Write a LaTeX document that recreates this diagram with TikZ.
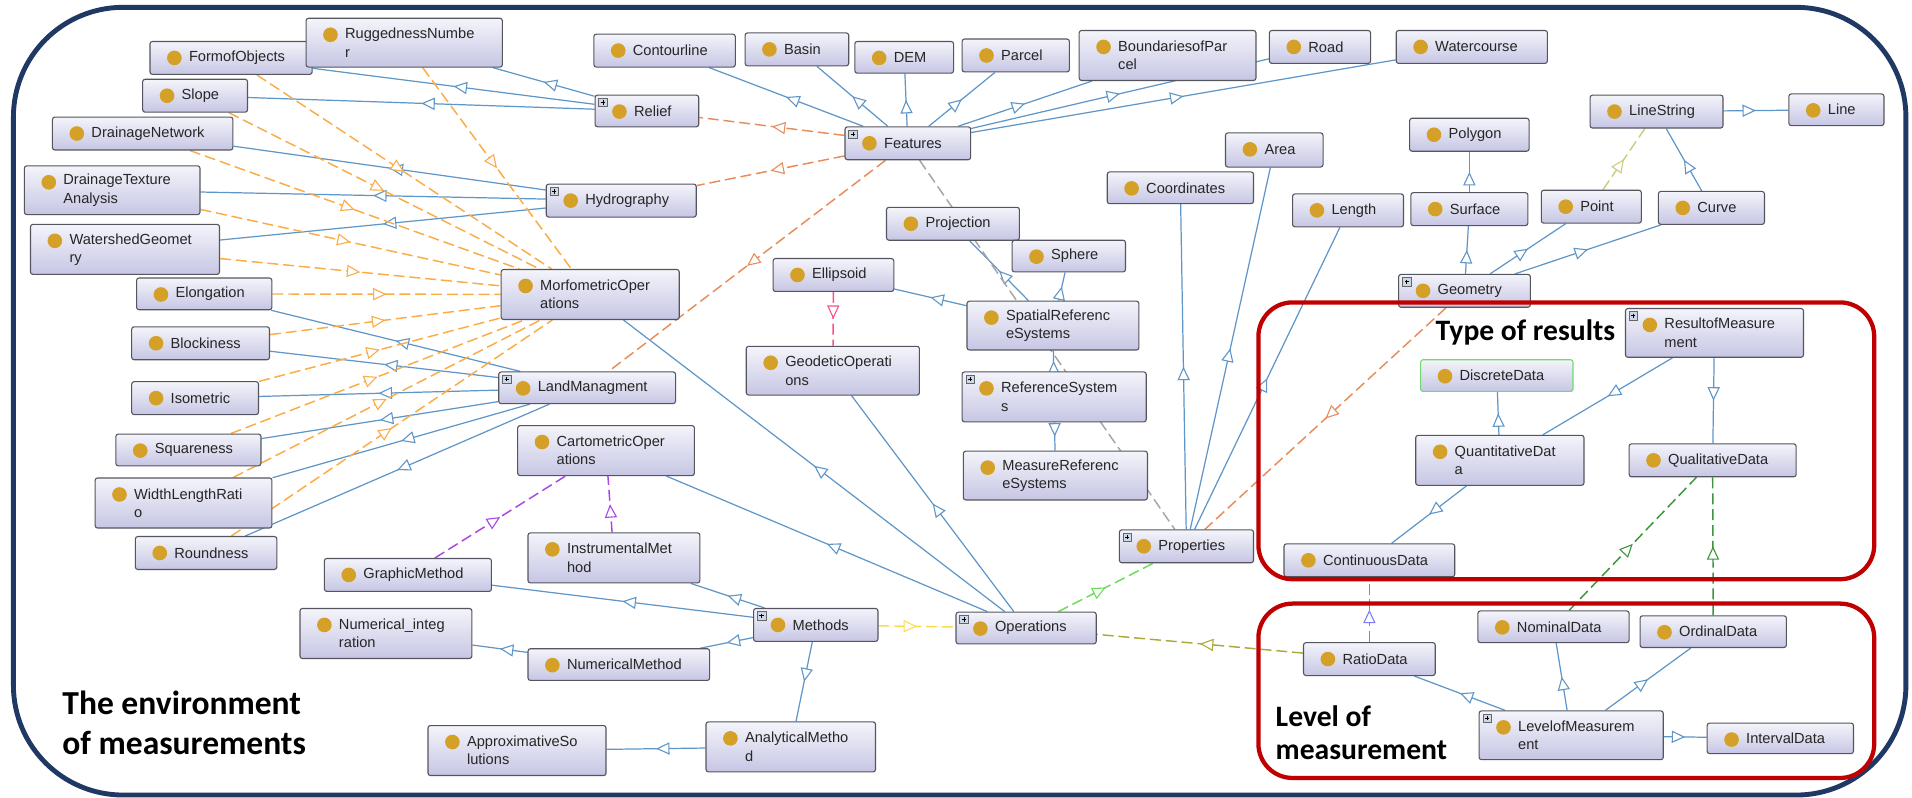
\documentclass[tikz,border=0pt]{standalone}
\usepackage{fontspec}
\setmainfont{Liberation Sans}
\newfontfamily\lblfont{Carlito}
\usetikzlibrary{arrows.meta,decorations.markings}
\hyphenpenalty=10000
\exhyphenpenalty=10000

\definecolor{isablue}{RGB}{95,150,200}
\definecolor{boxedge}{RGB}{85,85,95}
\definecolor{boxtop}{RGB}{244,244,251}
\definecolor{boxbot}{RGB}{198,198,228}
\definecolor{gold}{RGB}{212,160,40}
\definecolor{plusfill}{RGB}{205,215,230}
\definecolor{navy}{RGB}{31,56,100}
\definecolor{framered}{RGB}{192,0,0}
\definecolor{morfo}{RGB}{250,172,70}
\definecolor{feat}{RGB}{232,140,90}
\definecolor{graydash}{RGB}{165,165,165}
\definecolor{methyel}{RGB}{250,220,80}
\definecolor{propgreen}{RGB}{110,220,90}
\definecolor{ratioolive}{RGB}{170,170,60}
\definecolor{carto}{RGB}{170,70,230}
\definecolor{geod}{RGB}{250,80,140}
\definecolor{khaki}{RGB}{205,205,130}
\definecolor{qualgreen}{RGB}{60,150,60}
\definecolor{ratioblue}{RGB}{125,125,250}
\definecolor{discgreen}{RGB}{110,220,110}

\pgfdeclarelayer{edges}
\pgfsetlayers{edges,main}

% gold class bullet and the small expand icon of a class box
\newcommand\goldbullet{\fill[gold] ([xshift=20pt,yshift=-13.5pt]path picture bounding box.north west) circle[radius=6pt];}
\newcommand\plusicon{%
  \draw[sharp corners,draw=black!60,fill=plusfill,line width=0.4pt]
    ([xshift=3pt,yshift=-2.5pt]path picture bounding box.north west) rectangle
    ([xshift=10pt,yshift=-9.5pt]path picture bounding box.north west);
  \draw[sharp corners,black,line width=0.6pt]
    ([xshift=4.8pt,yshift=-6pt]path picture bounding box.north west) --
    ([xshift=8.2pt,yshift=-6pt]path picture bounding box.north west)
    ([xshift=6.5pt,yshift=-4.3pt]path picture bounding box.north west) --
    ([xshift=6.5pt,yshift=-7.7pt]path picture bounding box.north west);}

\tikzset{
  cbox/.style={rectangle, rounded corners=2pt, draw=boxedge, line width=0.9pt,
    top color=boxtop, bottom color=boxbot, align=left, inner xsep=0pt, inner ysep=2pt,
    text=black!85, font=\fontsize{12}{15}\selectfont, path picture={\goldbullet}},
  cboxplus/.style={cbox, path picture={\goldbullet\plusicon}},
  hollowmid/.style={postaction={decorate}, decoration={markings,
    mark=at position 0.5 with {\arrow[#1, solid, line width=0.9pt]{Triangle[length=11pt, width=10pt, fill=white]}}}},
  isa/.style={draw=isablue, line width=1pt, hollowmid=isablue},
  prop/.style={draw=#1, line width=1.2pt, dash pattern=on 9pt off 4pt, hollowmid=#1},
  lbl/.style={inner sep=0pt, text=black, font=\lblfont\bfseries\fontsize{24.3}{29}\selectfont},
  biglbl/.style={inner sep=0pt, text=black, font=\lblfont\bfseries\fontsize{27.5}{33}\selectfont},
}

% class box: [style]{name}{x}{y}{width}{height}{text}
\newcommand\cls[7][cbox]{%
  \pgfmathsetmacro\twd{#5-64}%
  \node[#1, minimum width=#5pt, minimum height=#6pt, text width=\twd pt] (#2) at (#3,#4) {#7};}

\begin{document}
\begin{tikzpicture}[x=1pt,y=-1pt]
\useasboundingbox (0,0) rectangle (1568,654);

% measures of form
\cls{FormofObjects}{189.5}{47.5}{133}{27}{FormofObjects}
\cls{RuggednessNumber}{331.5}{35}{161}{40}{RuggednessNumbe\\r}
\cls{Slope}{160}{78.5}{86}{27}{Slope}
\cls{DrainageNetwork}{117}{109.5}{148}{27}{DrainageNetwork}
\cls{DrainageTextureAnalysis}{92}{156}{144}{40}{DrainageTexture\\Analysis}
\cls{WatershedGeometry}{102.5}{204.5}{155}{41}{WatershedGeomet\\ry}
\cls{Elongation}{167.5}{241}{111}{26}{Elongation}
\cls{Blockiness}{164.5}{281.5}{113}{27}{Blockiness}
\cls{Isometric}{160}{326.5}{104}{27}{Isometric}
\cls{Squareness}{154.5}{369}{119}{26}{Squareness}
\cls{WidthLengthRatio}{150.5}{412.5}{145}{41}{WidthLengthRati\\o}
\cls{Roundness}{169}{453.5}{116}{27}{Roundness}

% operations and methods
\cls[cboxplus]{Relief}{530.5}{91}{85}{26}{Relief}
\cls[cboxplus]{Hydrography}{509.5}{164.5}{123}{27}{Hydrography}
\cls{MorfometricOperations}{484}{241.5}{146}{41}{MorfometricOper\\ations}
\cls[cboxplus]{LandManagment}{481.5}{318}{145}{26}{LandManagment}
\cls{CartometricOperations}{497}{369.5}{145}{41}{CartometricOper\\ations}
\cls{GraphicMethod}{334.5}{471.5}{137}{27}{GraphicMethod}
\cls{InstrumentalMethod}{503.5}{457.5}{141}{41}{InstrumentalMet\\hod}
\cls{NumericalIntegration}{316.5}{519.5}{141}{41}{Numerical\_integ\\ration}
\cls{NumericalMethod}{507.5}{545}{149}{26}{NumericalMethod}
\cls[cboxplus]{Methods}{669}{512.5}{102}{27}{Methods}
\cls[cboxplus]{Operations}{841.5}{515}{115}{26}{Operations}
\cls{AnalyticalMethod}{648.5}{612.5}{139}{41}{AnalyticalMetho\\d}
\cls{ApproximativeSolutions}{424}{615.5}{146}{41}{ApproximativeSo\\lutions}
\cls[cboxplus]{Properties}{973}{448}{110}{27}{Properties}

% reference systems
\cls{Ellipsoid}{683.5}{225.5}{99}{27}{Ellipsoid}
\cls{SpatialReferenceSystems}{863.5}{267}{141}{40}{SpatialReferenc\\eSystems}
\cls{GeodeticOperations}{683}{304}{142}{40}{GeodeticOperati\\ons}
\cls[cboxplus]{ReferenceSystems}{864.5}{325.5}{151}{41}{ReferenceSystem\\s}
\cls{MeasureReferenceSystems}{865.5}{390}{151}{40}{MeasureReferenc\\eSystems}
\cls{Projection}{781.5}{183.5}{109}{27}{Projection}
\cls{Sphere}{876.5}{210}{93}{26}{Sphere}

% features
\cls{Contourline}{545}{41.5}{116}{27}{Contourline}
\cls{Basin}{653.5}{40.5}{85}{27}{Basin}
\cls{DEM}{741.5}{47}{81}{26}{DEM}
\cls{Parcel}{833}{45.5}{88}{27}{Parcel}
\cls{BoundariesofParcel}{957.5}{45.5}{145}{41}{BoundariesofPar\\cel}
\cls[cboxplus]{Features}{744.5}{117.5}{103}{27}{Features}
\cls{Road}{1082.5}{38.5}{83}{27}{Road}
\cls{Watercourse}{1207}{38.5}{124}{27}{Watercourse}

% properties and geometry
\cls{Area}{1045}{123}{80}{28}{Area}
\cls{Coordinates}{968}{154}{120}{26}{Coordinates}
\cls{Length}{1105.5}{172.5}{91}{27}{Length}
\cls{Polygon}{1205}{110.5}{98}{27}{Polygon}
\cls{Surface}{1205}{171.5}{96}{27}{Surface}
\cls{Point}{1305}{169.5}{82}{27}{Point}
\cls{Curve}{1403.5}{170.5}{87}{27}{Curve}
\cls{LineString}{1358.5}{91.5}{109}{27}{LineString}
\cls{Line}{1506}{90}{78}{26}{Line}
\cls[cboxplus]{Geometry}{1201}{238.5}{108}{27}{Geometry}

% results and levels of measurement
\cls[cboxplus]{ResultofMeasurement}{1406}{273}{146}{40}{ResultofMeasure\\ment}
\cls[cbox,draw=discgreen]{DiscreteData}{1227.5}{308}{125}{26}{DiscreteData}
\cls{QuantitativeData}{1230}{377.5}{138}{41}{QuantitativeDat\\a}
\cls{QualitativeData}{1404.5}{377.5}{137}{27}{QualitativeData}
\cls{ContinuousData}{1123}{459.5}{140}{27}{ContinuousData}
\cls{RatioData}{1123}{540.5}{108}{27}{RatioData}
\cls{NominalData}{1274}{514}{124}{26}{NominalData}
\cls{OrdinalData}{1405}{518}{120}{26}{OrdinalData}
\cls[cboxplus]{LevelofMeasurement}{1288.5}{603}{151}{40}{LevelofMeasurem\\ent}
\cls{IntervalData}{1460}{605.5}{120}{25}{IntervalData}

\begin{pgfonlayer}{edges}
  % page background and outer frame
  \fill[white] (0,0) rectangle (1568,654);
  \draw[navy, line width=4pt, rounded corners=90pt] (11,6) rectangle (1563,652);

  % subclass links
  \foreach \c in {FormofObjects,RuggednessNumber,Slope} \draw[isa] (Relief) -- (\c);
  \foreach \c in {DrainageNetwork,DrainageTextureAnalysis,WatershedGeometry} \draw[isa] (Hydrography) -- (\c);
  \foreach \c in {Elongation,Blockiness,Isometric,Squareness,WidthLengthRatio,Roundness} \draw[isa] (LandManagment) -- (\c);
  \foreach \c in {Contourline,Basin,DEM,Parcel,BoundariesofParcel,Road,Watercourse} \draw[isa] (Features) -- (\c);
  \foreach \c in {MorfometricOperations,GeodeticOperations,CartometricOperations} \draw[isa] (Operations) -- (\c);
  \foreach \c in {GraphicMethod,InstrumentalMethod,NumericalMethod,AnalyticalMethod} \draw[isa] (Methods) -- (\c);
  \draw[isa] (NumericalMethod) -- (NumericalIntegration);
  \draw[isa] (AnalyticalMethod) -- (ApproximativeSolutions);
  \foreach \c in {Ellipsoid,Sphere,Projection} \draw[isa] (SpatialReferenceSystems) -- (\c);
  \foreach \c in {SpatialReferenceSystems,MeasureReferenceSystems} \draw[isa] (ReferenceSystems) -- (\c);
  \foreach \c in {Coordinates,Area,Length} \draw[isa] (Properties) -- (\c);
  \foreach \c in {Surface,Point,Curve} \draw[isa] (Geometry) -- (\c);
  \draw[isa] (Surface) -- (Polygon);
  \draw[isa] (Curve) -- (LineString);
  \draw[isa] (LineString) -- (Line);
  \foreach \c in {QuantitativeData,QualitativeData} \draw[isa] (ResultofMeasurement) -- (\c);
  \foreach \c in {DiscreteData,ContinuousData} \draw[isa] (QuantitativeData) -- (\c);
  \foreach \c in {RatioData,NominalData,OrdinalData,IntervalData} \draw[isa] (LevelofMeasurement) -- (\c);

  % object properties
  \foreach \c in {RuggednessNumber,FormofObjects,Slope,DrainageNetwork,DrainageTextureAnalysis,WatershedGeometry,Elongation,Blockiness,Isometric,Squareness,WidthLengthRatio,Roundness}
    \draw[prop=morfo] (\c) -- (MorfometricOperations);
  \foreach \c in {Relief,Hydrography,LandManagment} \draw[prop=feat] (Features) -- (\c);
  \draw[graydash, line width=1.2pt, dash pattern=on 9pt off 4pt] (Features) -- (Properties);
  \draw[prop=feat] (Geometry) -- (Properties);
  \draw[prop=methyel] (Methods) -- (Operations);
  \draw[prop=propgreen] (Operations) -- (Properties);
  \draw[prop=ratioolive] (RatioData) -- (Operations);
  \draw[prop=carto] (GraphicMethod) -- (CartometricOperations);
  \draw[prop=carto] (InstrumentalMethod) -- (CartometricOperations);
  \draw[prop=geod] (Ellipsoid) -- (GeodeticOperations);
  \draw[prop=khaki] (Point) -- (LineString);
  \draw[prop=qualgreen] (NominalData) -- (QualitativeData);
  \draw[prop=qualgreen] (OrdinalData) -- (QualitativeData);
  \draw[prop=ratioblue] (RatioData) -- (ContinuousData);
\end{pgfonlayer}

% grouping frames and their captions
\draw[framered, line width=3.5pt, rounded corners=28pt] (1032,248) rectangle (1537,475);
\draw[framered, line width=3.5pt, rounded corners=28pt] (1032,495) rectangle (1537,638);
\node[lbl, anchor=base] (typeres) at (1251,279) {Type of results};
\node[lbl, anchor=base west] (levelA) at (1046,596) {Level of};
\node[lbl, anchor=base west] (levelB) at (1046,623) {measurement};
\node[biglbl, anchor=base west] (envA) at (51,586) {The environment};
\node[biglbl, anchor=base west] (envB) at (51,619) {of measurements};
\end{tikzpicture}
\end{document}
